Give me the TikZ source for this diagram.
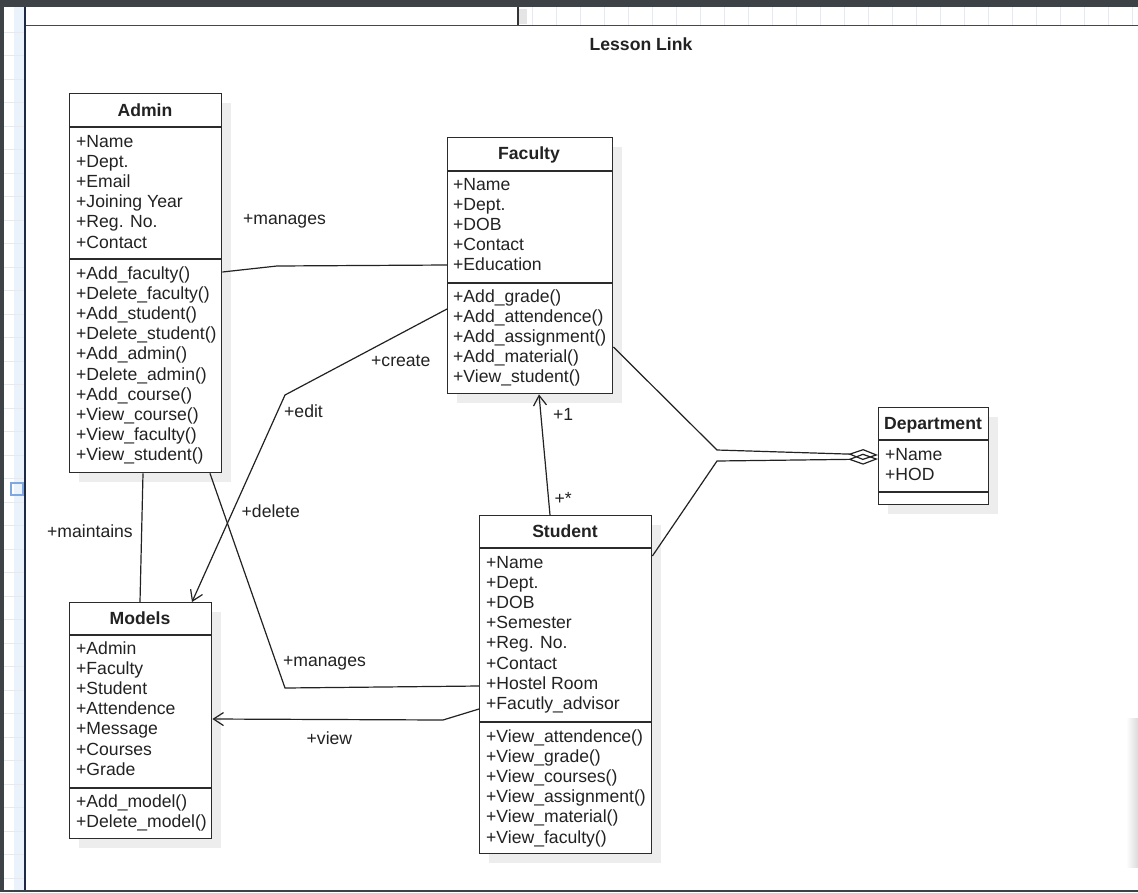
\documentclass[tikz,border=0pt]{standalone}
\usepackage{fontspec}
\setmainfont{Liberation Sans}
\usetikzlibrary{arrows.meta,shadows,calc}
\definecolor{chrome}{HTML}{3C4246}
\definecolor{stripblue}{HTML}{EAF2FC}
\definecolor{navy}{HTML}{1E2A44}
\definecolor{ink}{HTML}{222222}
\definecolor{boxline}{HTML}{2B2B2B}
\definecolor{gridc}{HTML}{E6E9EE}
\definecolor{selblue}{HTML}{7FA8E0}
\newcommand\rowfont{\fontsize{17.6}{20.2}\selectfont}
\tikzset{
  cls/.style={draw=boxline, line width=1.4pt, fill=white, inner sep=0pt,
    anchor=north west,
    drop shadow={shadow xshift=9pt, shadow yshift=-9pt, fill=black!7, opacity=1}},
  sepline/.style={draw=boxline, line width=1.4pt},
  row/.style={anchor=base west, inner sep=0pt, font=\rowfont, text=ink},
  ctitle/.style={anchor=base, inner sep=0pt, font=\rowfont\bfseries, text=ink},
  lbl/.style={anchor=base west, inner sep=0pt, font=\rowfont, text=ink},
  conn/.style={draw=ink, line width=1.2pt, line join=miter},
  openarrow/.style={-{Straight Barb[length=10pt,width=13pt]}},
  agg/.style={-{Diamond[open,length=30pt,width=11pt]}},
}
\begin{document}
\begin{tikzpicture}[x=1pt,y=-1pt]
\useasboundingbox (0,0) rectangle (1138,892);
\fill[white] (0,0) rectangle (1138,892);
% ---- editor chrome ----
\fill[chrome] (0,0) rectangle (1138,7);
\fill[chrome] (0,0) rectangle (4,892);
\fill[stripblue] (14,7) rectangle (24,890);
\foreach \yy in {32,55.5,...,890} \draw[gridc, line width=0.6pt] (4,\yy) -- (24,\yy);
\draw[selblue, line width=1.3pt] (11,483) rectangle (23,495);
\fill[navy] (24,7) rectangle (26,892);
\foreach \xx in {532,556,...,1138} \draw[gridc, line width=0.8pt] (\xx,7) -- (\xx,24.5);
\fill[black!10] (519,9) rectangle (527,24);
\fill[black!72] (26,24.5) rectangle (1138,26.3);
\draw[black!80, line width=1.2pt] (518,7) -- (518,25);
\shade[left color=white, right color=black!14] (1126,718) rectangle (1138,867);
\fill[chrome] (0,890) rectangle (1138,892);
% ---- title ----
\node[ctitle] (title) at (641,50) {Lesson Link};
% ---- Admin ----
\node[cls, minimum width=152pt, minimum height=379pt] (admin) at (69,93) {};
\draw[sepline] (admin.west |- 0,127) -- (admin.east |- 0,127);
\draw[sepline] (admin.west |- 0,259) -- (admin.east |- 0,259);
\node[ctitle] (admin-t) at (145,116) {Admin};
\foreach \t [count=\i from 0] in {+Name,+Dept.,+Email,+Joining Year,+Reg. No.,+Contact}
  \node[row] (admin-a\i) at (76,147+20.2*\i) {\t};
\foreach \t [count=\i from 0] in {+Add\_faculty(),+Delete\_faculty(),+Add\_student(),+Delete\_student(),+Add\_admin(),+Delete\_admin(),+Add\_course(),+View\_course(),+View\_faculty(),+View\_student()}
  \node[row] (admin-m\i) at (76,279+20.2*\i) {\t};
% ---- Faculty ----
\node[cls, minimum width=165pt, minimum height=256pt] (faculty) at (447,137) {};
\draw[sepline] (faculty.west |- 0,171) -- (faculty.east |- 0,171);
\draw[sepline] (faculty.west |- 0,283) -- (faculty.east |- 0,283);
\node[ctitle] (faculty-t) at (529,159.5) {Faculty};
\foreach \t [count=\i from 0] in {+Name,+Dept.,+DOB,+Contact,+Education}
  \node[row] (faculty-a\i) at (453,190+20.2*\i) {\t};
\foreach \t [count=\i from 0] in {+Add\_grade(),+Add\_attendence(),+Add\_assignment(),+Add\_material(),+View\_student()}
  \node[row] (faculty-m\i) at (453,302+20.2*\i) {\t};
% ---- Department ----
\node[cls, minimum width=110pt, minimum height=97pt] (dept) at (878,407) {};
\draw[sepline] (dept.west |- 0,440) -- (dept.east |- 0,440);
\draw[sepline] (dept.west |- 0,492) -- (dept.east |- 0,492);
\node[ctitle] (dept-t) at (933,429.5) {Department};
\foreach \t [count=\i from 0] in {+Name,+HOD}
  \node[row] (dept-a\i) at (885,460+20.2*\i) {\t};
% ---- Student ----
\node[cls, minimum width=172pt, minimum height=338pt] (student) at (479,515) {};
\draw[sepline] (student.west |- 0,548) -- (student.east |- 0,548);
\draw[sepline] (student.west |- 0,722) -- (student.east |- 0,722);
\node[ctitle] (student-t) at (565,537.5) {Student};
\foreach \t [count=\i from 0] in {+Name,+Dept.,+DOB,+Semester,+Reg. No.,+Contact,+Hostel Room,+Facutly\_advisor}
  \node[row] (student-a\i) at (486,568+20.2*\i) {\t};
\foreach \t [count=\i from 0] in {+View\_attendence(),+View\_grade(),+View\_courses(),+View\_assignment(),+View\_material(),+View\_faculty()}
  \node[row] (student-m\i) at (486,742+20.2*\i) {\t};
% ---- Models ----
\node[cls, minimum width=142pt, minimum height=236pt] (models) at (69,602) {};
\draw[sepline] (models.west |- 0,635) -- (models.east |- 0,635);
\draw[sepline] (models.west |- 0,788) -- (models.east |- 0,788);
\node[ctitle] (models-t) at (140,624) {Models};
\foreach \t [count=\i from 0] in {+Admin,+Faculty,+Student,+Attendence,+Message,+Courses,+Grade}
  \node[row] (models-a\i) at (76,654+20.2*\i) {\t};
\foreach \t [count=\i from 0] in {+Add\_model(),+Delete\_model()}
  \node[row] (models-m\i) at (76,807+20.2*\i) {\t};
% ---- bend points ----
\coordinate (b-man1) at (277,266);
\coordinate (b-crt) at (285,395);
\coordinate (b-man2) at (285,688);
\coordinate (b-view) at (443,720);
\coordinate (b-agg1) at (717,450);
\coordinate (b-agg2) at (717,461);
% ---- connectors ----
\draw[conn] (admin.east |- 0,272) -- (b-man1) -- (faculty.west |- 0,265);
\draw[conn, openarrow] (faculty.west |- 0,309) -- (b-crt) -- (models.north -| 192,0);
\draw[conn] (admin.south -| 143,0) -- (models.north -| 140,0);
\draw[conn] (admin.south -| 210,0) -- (b-man2) -- (student.west |- 0,686);
\draw[conn, openarrow] (student.west |- 0,709) -- (b-view) -- (models.east |- 0,719);
\draw[conn, openarrow] (student.north -| 550,0) -- (faculty.south -| 539,0);
\draw[conn, agg] (faculty.east |- 0,347) -- (b-agg1) -- (dept.west |- 0,455);
\draw[conn, agg] (student.east |- 0,556) -- (b-agg2) -- (dept.west |- 0,459);
% ---- connector labels ----
\node[lbl] (l-man1) at (243,224) {+manages};
\node[lbl] (l-create) at (371,366) {+create};
\node[lbl] (l-edit) at (284,417) {+edit};
\node[lbl] (l-delete) at (241.5,517) {+delete};
\node[lbl] (l-maint) at (47,537) {+maintains};
\node[lbl] (l-man2) at (283,666) {+manages};
\node[lbl] (l-view) at (306.5,744.5) {+view};
\node[lbl] (l-one) at (553,420.5) {+1};
\node[lbl] (l-many) at (554.5,504.5) {+*};
\end{tikzpicture}
\end{document}
